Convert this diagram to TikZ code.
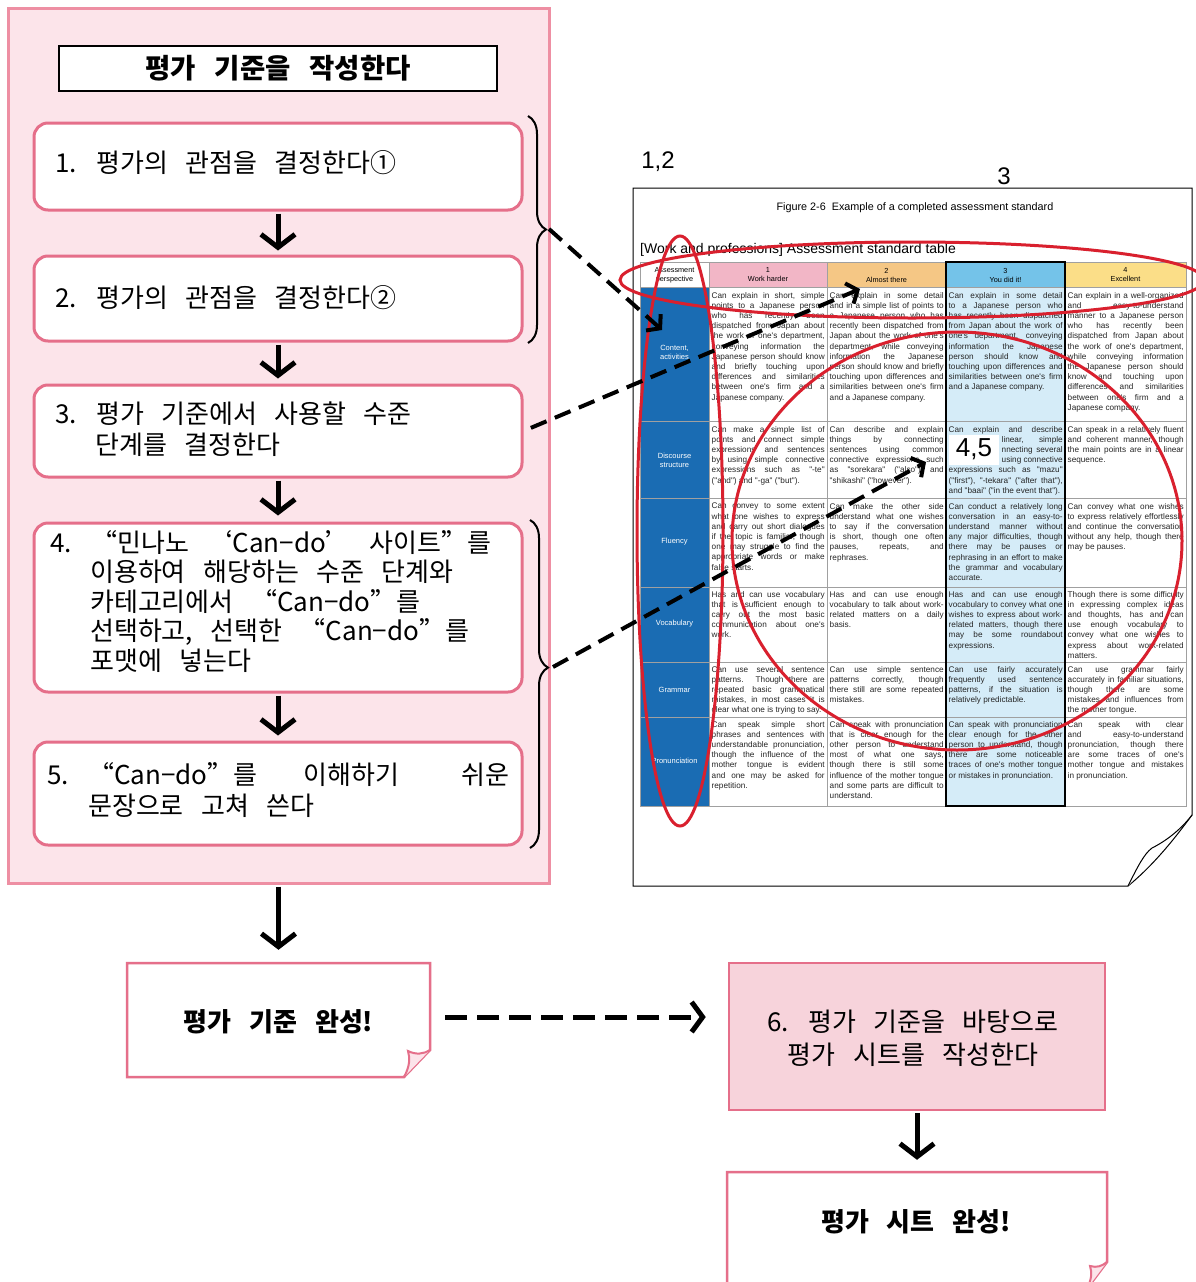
\documentclass[tikz,border=0pt]{standalone}
\usepackage{fontspec}
\usepackage{graphicx}
\setmainfont{Noto Sans CJK KR}[WordSpace=3]
\newfontfamily\fwq{Noto Sans CJK KR}[RawFeature=+fwid]
\newfontfamily\tabf{Liberation Sans}
\usetikzlibrary{arrows.meta,decorations.pathreplacing}
\definecolor{panelfill}{HTML}{FCE4EA}
\definecolor{panelline}{HTML}{EE8FA3}
\definecolor{boxline}{HTML}{E56F8A}
\definecolor{sixfill}{HTML}{F7D3DB}
\definecolor{hone}{HTML}{F2B6C6}
\definecolor{htwo}{HTML}{F5C785}
\definecolor{hthree}{HTML}{74C3E9}
\definecolor{hfour}{HTML}{FBDE88}
\definecolor{cthree}{HTML}{D5ECF8}
\definecolor{leftblue}{HTML}{1A6CB3}
\definecolor{redmark}{HTML}{D9202E}
\definecolor{gridc}{HTML}{A0A0A0}
\newcommand\qL{{\fwq “}}
\newcommand\qR{{\fwq ”}}
\newcommand\sL{{\fwq ‘}}
\newcommand\sR{{\fwq ’}}
\newcommand\mns{{\fwq −}}
\newsavebox\jlbox
\newcommand\jl[1]{\sbox\jlbox{#1}\ifdim\wd\jlbox>\linewidth\hbox to\linewidth{\resizebox{\linewidth}{\ht\jlbox}{\usebox\jlbox}}\else\hbox to\linewidth{#1}\fi}
\newcommand\lastl[1]{\hbox{#1}}
\newcommand\cellbox[2]{\vtop{\hsize=#1pt\linewidth=\hsize\relax #2}}
\begin{document}
\begin{tikzpicture}[x=1pt,y=-1pt,
  kbox/.style={draw=boxline,line width=3pt,fill=white,rounded corners=14pt,inner sep=0pt},
  ktext/.style={anchor=west,inner sep=0pt,font=\fontsize{26}{30}\selectfont},
  darr/.style={line width=5pt,-{Straight Barb[length=13pt,width=34pt]}},
  dasharr/.style={line width=4pt,dash pattern=on 17pt off 9pt,-{Straight Barb[length=9pt,width=22pt]}},
  hdasharr/.style={line width=5pt,dash pattern=on 22pt off 10pt,-{Straight Barb[length=11pt,width=30pt]}},
  bracest/.style={decorate,decoration={brace,amplitude=18pt},line width=2pt},
  redloop/.style={draw=redmark,line width=3pt},
  cellt/.style={anchor=north west,inner sep=0pt,font=\tabf\fontsize{8.2}{10.2}\selectfont,text=black!85},
  headt/.style={align=center,inner sep=0pt,font=\tabf\fontsize{7.3}{9}\selectfont},
  rowlab/.style={align=center,inner sep=0pt,text=white,font=\tabf\fontsize{7.5}{9}\selectfont},
  numlab/.style={inner sep=0pt,font=\tabf\fontsize{24}{26}\selectfont}]
\useasboundingbox (0,0) rectangle (1196,1282);
\fill[white] (0,0) rectangle (1196,1282);

% ---------- left panel ----------
\node[draw=panelline,line width=3pt,fill=panelfill,minimum width=541pt,minimum height=875pt,inner sep=0pt] (panel) at (278.5,445.5) {};
\node[draw=black,line width=1.2pt,fill=white,minimum width=438pt,minimum height=45pt,font=\bfseries\fontsize{27.5}{30}\selectfont] (title) at (278,68.5) {평가 기준을 작성한다};

\node[kbox,minimum width=488pt,minimum height=87pt] (b1) at (278,166.5) {};
\node[kbox,minimum width=488pt,minimum height=85pt] (b2) at (278,298.5) {};
\node[kbox,minimum width=488pt,minimum height=92pt] (b3) at (278,431) {};
\node[kbox,minimum width=488pt,minimum height=169pt] (b4) at (278,607.5) {};
\node[kbox,minimum width=488pt,minimum height=103pt] (b5) at (278,793.5) {};

\node[ktext] (t1) at (55,163) {1. 평가의 관점을 결정한다①};
\node[ktext] (t2) at (55,298) {2. 평가의 관점을 결정한다②};
\node[ktext] (t3a) at (55,414) {3. 평가 기준에서 사용할 수준};
\node[ktext] (t3b) at (95,445) {단계를 결정한다};
\node[ktext] (t4a) at (50,543) {4. \qL 민나노 \sL Can\mns do\sR{} 사이트\qR 를};
\node[ktext] (t4b) at (90,572) {이용하여 해당하는 수준 단계와};
\node[ktext] (t4c) at (90,602) {카테고리에서 \qL Can\mns do\qR 를};
\node[ktext] (t4d) at (90,632) {선택하고, 선택한 \qL Can\mns do\qR 를};
\node[ktext] (t4e) at (90,661) {포맷에 넣는다};
\node[ktext] (t5a) at (47,775) {5. \qL Can\mns do\qR 를\hspace{46pt}이해하기\hspace{62pt}쉬운};
\node[ktext] (t5b) at (88,806) {문장으로 고쳐 쓴다};

\draw[darr,shorten <=2pt,shorten >=4pt] (b1.south) -- (b2.north);
\draw[darr,shorten <=2pt,shorten >=5pt] (b2.south) -- (b3.north);
\draw[darr,shorten <=2pt,shorten >=6pt] (b3.south) -- (b4.north);
\draw[darr,shorten <=2pt,shorten >=5pt] (b4.south) -- (b5.north);

\draw[bracest] (528,116) -- (528,343);
\draw[bracest,decoration={aspect=0.45}] (530,520) -- (530,848);
\coordinate (bt1) at (549,229);
\coordinate (bt2) at (553,667);

% ---------- the document page ----------
\draw[line width=1pt,fill=white] (633,188) -- (1192,188) -- (1192,815) .. controls (1170,845) and (1150,868) .. (1128,886) -- (633,886) -- cycle;
\draw[line width=1pt,fill=white] (1128,886) .. controls (1138,866) and (1144,854) .. (1152,848) .. controls (1168,840) and (1182,828) .. (1192,815);

\node[inner sep=0pt,font=\tabf\fontsize{10.8}{12}\selectfont] (figcap) at (915,208) {Figure 2-6\ \ Example of a completed assessment standard};
\node[anchor=west,inner sep=0pt,font=\tabf\fontsize{14}{16}\selectfont] (tabtitle) at (640,250) {[Work and professions] Assessment standard table};

% header fills
\fill[white] (640,262) rectangle (709,287);
\fill[hone] (709,262) rectangle (827,287);
\fill[htwo] (827,262) rectangle (946,287);
\fill[hthree] (946,262) rectangle (1065,287);
\fill[hfour] (1065,262) rectangle (1186,287);
\fill[leftblue] (640,287) rectangle (709,806);
\fill[cthree] (946,287) rectangle (1065,806);

\node[headt] (h0) at (674.5,275) {Assessment\\perspective};
\node[headt] (h1) at (768,275) {1\\Work harder};
\node[headt] (h2) at (886.5,275) {2\\Almost there};
\node[headt] (h3) at (1005.5,275) {3\\You did it!};
\node[headt] (h4) at (1125.5,275) {4\\Excellent};

\node[rowlab] (l1) at (674.5,352) {Content,\\activities};
\node[rowlab] (l2) at (674.5,460) {Discourse\\structure};
\node[rowlab] (l3) at (674.5,542) {Fluency};
\node[rowlab] (l4) at (674.5,624) {Vocabulary};
\node[rowlab] (l5) at (674.5,690) {Grammar};
\node[rowlab] (l6) at (674.5,761) {Pronunciation};

% grid
\draw[gridc,line width=0.8pt] (640,262) rectangle (1186,806);
\foreach \yy in {287,421,498,587,662,717} \draw[gridc,line width=0.8pt] (640,\yy) -- (1186,\yy);
\foreach \xx in {709,827,1065} \draw[gridc,line width=0.8pt] (\xx,262) -- (\xx,806);
\draw[black,line width=2pt] (946,262) rectangle (1065,806);

% row 1
\node[cellt] (c11) at (711.5,292) {\cellbox{113}{\jl{Can explain in short, simple}\jl{points to a Japanese person}\jl{who has recently been}\jl{dispatched from Japan about}\jl{the work of one's department,}\jl{conveying information the}\jl{Japanese person should know}\jl{and briefly touching upon}\jl{differences and similarities}\jl{between one's firm and a}\lastl{Japanese company.}}};
\node[cellt] (c12) at (829.5,292) {\cellbox{114}{\jl{Can explain in some detail}\jl{and in a simple list of points to}\jl{a Japanese person who has}\jl{recently been dispatched from}\jl{Japan about the work of one's}\jl{department, while conveying}\jl{information the Japanese}\jl{person should know and briefly}\jl{touching upon differences and}\jl{similarities between one's firm}\lastl{and a Japanese company.}}};
\node[cellt] (c13) at (948.5,292) {\cellbox{114}{\jl{Can explain in some detail}\jl{to a Japanese person who}\jl{has recently been dispatched}\jl{from Japan about the work of}\jl{one's department, conveying}\jl{information the Japanese}\jl{person should know and}\jl{touching upon differences and}\jl{similarities between one's firm}\lastl{and a Japanese company.}}};
\node[cellt] (c14) at (1067.5,292) {\cellbox{116}{\jl{Can explain in a well-organized}\jl{and easy-to-understand}\jl{manner to a Japanese person}\jl{who has recently been}\jl{dispatched from Japan about}\jl{the work of one's department,}\jl{while conveying information}\jl{the Japanese person should}\jl{know and touching upon}\jl{differences and similarities}\jl{between one's firm and a}\lastl{Japanese company.}}};
% row 2
\node[cellt] (c21) at (711.5,426) {\cellbox{113}{\jl{Can make a simple list of}\jl{points and connect simple}\jl{expressions and sentences}\jl{by using simple connective}\jl{expressions such as "-te"}\lastl{("and") and "-ga" ("but").}}};
\node[cellt] (c22) at (829.5,426) {\cellbox{114}{\jl{Can describe and explain}\jl{things by connecting}\jl{sentences using common}\jl{connective expressions such}\jl{as "sorekara" ("also") and}\lastl{"shikashi" ("however").}}};
\node[cellt] (c23) at (948.5,426) {\cellbox{114}{\jl{Can explain and describe}\hbox to\linewidth{\hskip 53pt linear, simple}\hbox to\linewidth{\hskip 53pt nnecting several}\hbox to\linewidth{\hskip 53pt using connective}\jl{expressions such as "mazu"}\jl{("first"), "-tekara" ("after that"),}\lastl{and "baai" ("in the event that").}}};
\node[cellt] (c24) at (1067.5,426) {\cellbox{116}{\jl{Can speak in a relatively fluent}\jl{and coherent manner, though}\jl{the main points are in a linear}\lastl{sequence.}}};
% row 3
\node[cellt] (c31) at (711.5,503) {\cellbox{113}{\jl{Can convey to some extent}\jl{what one wishes to express}\jl{and carry out short dialogues}\jl{if the topic is familiar, though}\jl{one may struggle to find the}\jl{appropriate words or make}\lastl{false starts.}}};
\node[cellt] (c32) at (829.5,503) {\cellbox{114}{\jl{Can make the other side}\jl{understand what one wishes}\jl{to say if the conversation}\jl{is short, though one often}\jl{pauses, repeats, and}\lastl{rephrases.}}};
\node[cellt] (c33) at (948.5,503) {\cellbox{114}{\jl{Can conduct a relatively long}\jl{conversation in an easy-to-}\jl{understand manner without}\jl{any major difficulties, though}\jl{there may be pauses or}\jl{rephrasing in an effort to make}\jl{the grammar and vocabulary}\lastl{accurate.}}};
\node[cellt] (c34) at (1067.5,503) {\cellbox{116}{\jl{Can convey what one wishes}\jl{to express relatively effortlessly}\jl{and continue the conversation}\jl{without any help, though there}\lastl{may be pauses.}}};
% row 4
\node[cellt] (c41) at (711.5,591) {\cellbox{113}{\jl{Has and can use vocabulary}\jl{that is sufficient enough to}\jl{carry out the most basic}\jl{communication about one's}\lastl{work.}}};
\node[cellt] (c42) at (829.5,591) {\cellbox{114}{\jl{Has and can use enough}\jl{vocabulary to talk about work-}\jl{related matters on a daily}\lastl{basis.}}};
\node[cellt] (c43) at (948.5,591) {\cellbox{114}{\jl{Has and can use enough}\jl{vocabulary to convey what one}\jl{wishes to express about work-}\jl{related matters, though there}\jl{may be some roundabout}\lastl{expressions.}}};
\node[cellt] (c44) at (1067.5,591) {\cellbox{116}{\jl{Though there is some difficulty}\jl{in expressing complex ideas}\jl{and thoughts, has and can}\jl{use enough vocabulary to}\jl{convey what one wishes to}\jl{express about work-related}\lastl{matters.}}};
% row 5
\node[cellt] (c51) at (711.5,666) {\cellbox{113}{\jl{Can use several sentence}\jl{patterns. Though there are}\jl{repeated basic grammatical}\jl{mistakes, in most cases it is}\lastl{clear what one is trying to say.}}};
\node[cellt] (c52) at (829.5,666) {\cellbox{114}{\jl{Can use simple sentence}\jl{patterns correctly, though}\jl{there still are some repeated}\lastl{mistakes.}}};
\node[cellt] (c53) at (948.5,666) {\cellbox{114}{\jl{Can use fairly accurately}\jl{frequently used sentence}\jl{patterns, if the situation is}\lastl{relatively predictable.}}};
\node[cellt] (c54) at (1067.5,666) {\cellbox{116}{\jl{Can use grammar fairly}\jl{accurately in familiar situations,}\jl{though there are some}\jl{mistakes and influences from}\lastl{the mother tongue.}}};
% row 6
\node[cellt] (c61) at (711.5,721) {\cellbox{113}{\jl{Can speak simple short}\jl{phrases and sentences with}\jl{understandable pronunciation,}\jl{though the influence of the}\jl{mother tongue is evident}\jl{and one may be asked for}\lastl{repetition.}}};
\node[cellt] (c62) at (829.5,721) {\cellbox{114}{\jl{Can speak with pronunciation}\jl{that is clear enough for the}\jl{other person to understand}\jl{most of what one says,}\jl{though there is still some}\jl{influence of the mother tongue}\jl{and some parts are difficult to}\lastl{understand.}}};
\node[cellt] (c63) at (948.5,721) {\cellbox{114}{\jl{Can speak with pronunciation}\jl{clear enough for the other}\jl{person to understand, though}\jl{there are some noticeable}\jl{traces of one's mother tongue}\lastl{or mistakes in pronunciation.}}};
\node[cellt] (c64) at (1067.5,721) {\cellbox{116}{\jl{Can speak with clear}\jl{and easy-to-understand}\jl{pronunciation, though there}\jl{are some traces of one's}\jl{mother tongue and mistakes}\lastl{in pronunciation.}}};

\node[fill=white,minimum width=50pt,minimum height=30pt,inner sep=0pt,font=\tabf\fontsize{26}{28}\selectfont] (fourfive) at (974,449.5) {4,5};

\node[numlab] (lab12) at (658,162) {1,2};
\node[numlab] (lab3) at (1004,176) {3};

% red hand-drawn loops
\draw[redloop] (912,280) ellipse [x radius=292pt,y radius=38pt];
\draw[redloop] (680,531) ellipse [x radius=43pt,y radius=295pt];
\draw[redloop] (957,541) ellipse [x radius=225pt,y radius=209pt];

% dashed connectors
\coordinate (tgt1) at (662,330);
\coordinate (tgt2) at (860,289);
\coordinate (tgt3) at (926,462);
\draw[dasharr] (bt1) -- (tgt1);
\draw[dasharr,shorten <=8pt] (b3.east) -- (tgt2);
\draw[dasharr] (bt2) -- (tgt3);

% ---------- bottom flow ----------
\node[minimum width=303pt,minimum height=114pt,inner sep=0pt] (done1) at (278.5,1020) {};
\draw[boxline,line width=2.5pt,fill=white] (127,963) -- (430,963) -- (430,1050) -- (404,1077) -- (127,1077) -- cycle;
\draw[boxline,line width=2pt,fill=panelfill] (404,1077) .. controls (410,1066) and (410,1058) .. (408,1051) .. controls (416,1055) and (424,1054) .. (430,1050);
\node[inner sep=0pt,font=\bfseries\fontsize{26}{30}\selectfont] (done1t) at (278.5,1022) {평가 기준 완성!};

\node[draw=boxline,line width=2.5pt,fill=sixfill,minimum width=376pt,minimum height=147pt,inner sep=0pt] (task6) at (917,1036.5) {};
\node[inner sep=0pt,font=\fontsize{26}{30}\selectfont] (task6a) at (913,1022) {6. 평가 기준을 바탕으로};
\node[inner sep=0pt,font=\fontsize{26}{30}\selectfont] (task6b) at (913,1055) {평가 시트를 작성한다};

\node[minimum width=380pt,minimum height=100pt,inner sep=0pt] (done2) at (917,1222) {};
\draw[boxline,line width=2.5pt,fill=white] (727,1172) -- (1107,1172) -- (1107,1262) -- (1086,1290) -- (727,1290) -- cycle;
\draw[boxline,line width=2pt,fill=panelfill] (1086,1290) .. controls (1092,1280) and (1092,1272) .. (1090,1266) .. controls (1097,1268) and (1102,1266) .. (1107,1262);
\node[inner sep=0pt,font=\bfseries\fontsize{26}{30}\selectfont] (done2t) at (916,1222) {평가 시트 완성!};

\draw[darr,shorten <=2pt,shorten >=13pt] (panel.south) -- (done1.north);
\draw[hdasharr,shorten <=15pt,shorten >=22pt] ([yshift=3pt]done1.east) -- ([yshift=3pt]task6.west |- done1.east);
\draw[darr,shorten <=2pt,shorten >=12pt] (task6.south) -- (done2.north);
\end{tikzpicture}
\end{document}
